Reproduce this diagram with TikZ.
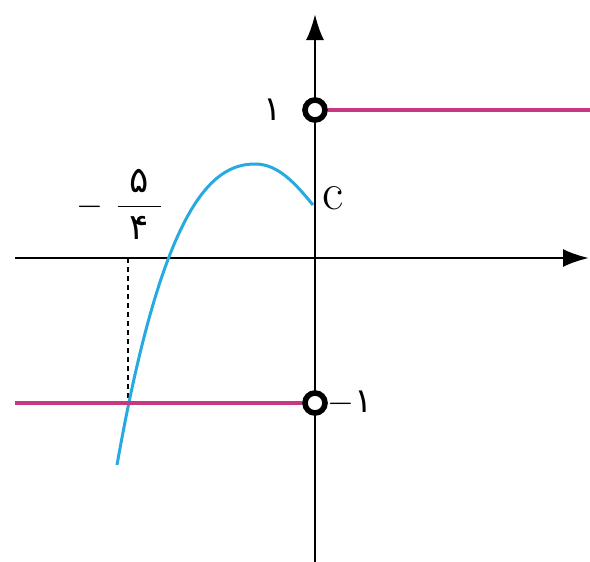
\documentclass[tikz,border=0pt]{standalone}
\usepackage{amsmath}
\usepackage{fontspec}
\usepackage{tikz}
\newfontfamily\fa{DejaVu Sans}
\definecolor{curveblue}{RGB}{40,170,225}
\definecolor{stepmagenta}{RGB}{200,55,130}
\usetikzlibrary{arrows.meta,positioning}

\begin{document}
\begin{tikzpicture}[
    x=0.5pt, y=-0.5pt,
    axis/.style={line width=1.3pt, -{Latex[length=13pt,width=9pt]}},
    hole/.style={circle, draw=black, fill=white, line width=2.8pt, minimum size=10pt, inner sep=0pt},
    piece/.style={stepmagenta, line width=1.7pt},
    graph/.style={curveblue, line width=1.5pt},
    lbl/.style={font=\fontsize{17}{20}\selectfont\fa}
]
\useasboundingbox (0,0) rectangle (590,562);

% Axes
\coordinate (xl) at (15,258);
\coordinate (xr) at (589,258);
\coordinate (yb) at (315,562);
\coordinate (yt) at (315,14);
\draw[axis] (xl) -- (xr);
\draw[axis] (yb) -- (yt);

% Dashed guide
\coordinate (tk) at (128,258);
\coordinate (tb) at (128,403);
\draw[dashed, line width=0.9pt, dash pattern=on 2.5pt off 2pt] (tk) -- (tb);

% Curve
\coordinate (cs) at (117,465);
\coordinate (ctop) at (255,164);
\coordinate (ce) at (313,205);
\draw[graph] (cs) .. controls (163,205) and (212,164) .. (ctop)
  .. controls (278,164) and (295,183) .. (ce);

% Step pieces
\node[hole] (up) at (315,110) {};
\node[hole] (down) at (315,403) {};
\coordinate (pr) at (590,110);
\coordinate (pl) at (15,403);
\draw[piece] (up) -- (pr);
\draw[piece] (pl) -- (down);

% Labels
\node[lbl] (one) at (273,110) {۱};
\node[lbl] (mone) at (350,403) {$-$۱};
\node[font=\fontsize{26}{30}\selectfont] (cc) at (333,198) {c};
\node[font=\fontsize{18}{22}\selectfont] (frac) at (120,204)
  {$-\,\,\dfrac{\makebox[1.2em]{\fa ۵}}{\makebox[1.2em]{\fa ۴}}$};

\end{tikzpicture}
\end{document}
